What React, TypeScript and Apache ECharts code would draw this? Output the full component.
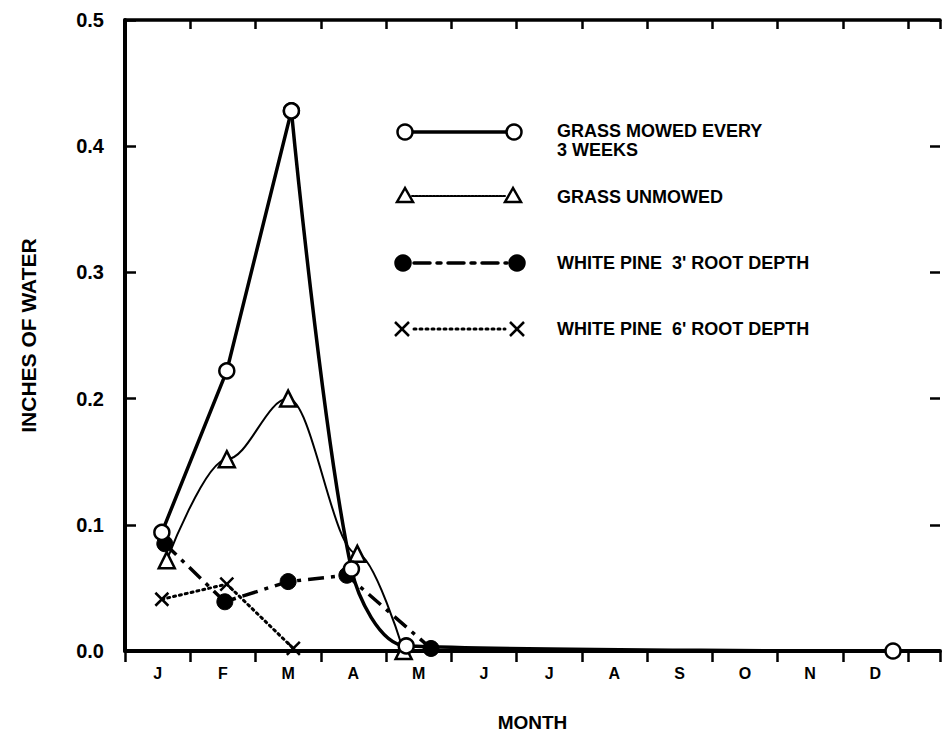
import React, { useEffect, useRef } from "react";
import * as echarts from "echarts";

const MONTHS = ["J", "F", "M", "A", "M", "J", "J", "A", "S", "O", "N", "D"];
const Y_TICKS = [0, 0.1, 0.2, 0.3, 0.4, 0.5];

const mowedX = [0.565, 1.56, 2.55, 3.47, 4.31, 11.77];
const mowedY = [0.094, 0.222, 0.428, 0.065, 0.004, 0.0];
const MOWED_PEAK = 2; // index of the peak: rise drawn straight, fall drawn curved
const unmowedX = [0.64, 1.56, 2.5, 3.56, 4.27];
const unmowedY = [0.072, 0.152, 0.2, 0.077, 0.0];
const pine3X = [0.61, 1.53, 2.5, 3.4, 4.69];
const pine3Y = [0.085, 0.039, 0.055, 0.06, 0.002];
const pine6X = [0.565, 1.56, 2.58];
const pine6Y = [0.041, 0.053, 0.002];

const LEGEND = [
  "GRASS MOWED EVERY",
  "3 WEEKS",
  "GRASS UNMOWED",
  "WHITE PINE  3' ROOT DEPTH",
  "WHITE PINE  6' ROOT DEPTH",
];

const FONT = "'Liberation Sans', Arial, sans-serif";
const X_MAX = 12.49;
const CROSS = "path://M0,0L10,10M10,0L0,10";

const pairs = (xs: number[], ys: number[]) => xs.map((x, i) => [x, ys[i]]);

export default function App() {
  const ref = useRef<HTMLDivElement>(null);
  useEffect(() => {
    if (!ref.current) return;
    const chart = echarts.init(ref.current, null, { renderer: "svg" });
    const black = "#000";
    const txt = (text: string, x: number, y: number) => ({
      type: "text",
      x,
      y,
      style: {
        text,
        fill: black,
        font: `bold 18px ${FONT}`,
        verticalAlign: "middle",
        align: "left",
      },
    });
    const circ = (cx: number, cy: number, filled: boolean) => ({
      type: "circle",
      shape: { cx, cy, r: 7.5 },
      style: { fill: filled ? black : "#fff", stroke: black, lineWidth: 2.5 },
      z: 10,
    });
    const tri = (x: number, y: number) => ({
      type: "polygon",
      shape: { points: [[x, y - 8], [x - 8, y + 6], [x + 8, y + 6]] },
      style: { fill: "#fff", stroke: black, lineWidth: 2.5 },
      z: 10,
    });
    const cross = (x: number, y: number) => ({
      type: "group",
      z: 10,
      children: [
        { type: "line", shape: { x1: x - 7, y1: y - 7, x2: x + 7, y2: y + 7 }, style: { stroke: black, lineWidth: 2.5 } },
        { type: "line", shape: { x1: x + 7, y1: y - 7, x2: x - 7, y2: y + 7 }, style: { stroke: black, lineWidth: 2.5 } },
      ],
    });
    const seg = (y: number, x1: number, x2: number, width: number, dash?: number[]) => ({
      type: "line",
      shape: { x1, y1: y, x2, y2: y },
      style: { stroke: black, lineWidth: width, lineDash: dash, lineCap: dash ? "round" : "butt" },
    });

    const xAxisBase = { type: "value", min: 0, max: X_MAX, splitLine: { show: false } };
    const mowedData = pairs(mowedX, mowedY);
    const mowedStyle = {
      type: "line",
      symbol: "circle",
      symbolSize: 15,
      showAllSymbol: true,
      lineStyle: { color: black, width: 3.5 },
      itemStyle: { color: "#fff", borderColor: black, borderWidth: 2.5 },
      z: 5,
    };

    chart.setOption({
      animation: false,
      backgroundColor: "#fff",
      grid: { left: 125, right: 0, top: 20, bottom: 86 },
      xAxis: [
        {
          ...xAxisBase,
          position: "bottom",
          interval: 0.5,
          axisLine: { show: true, onZero: false, lineStyle: { color: black, width: 4 } },
          axisTick: { show: false },
          axisLabel: {
            color: black,
            fontFamily: FONT,
            fontWeight: "bold",
            fontSize: 16,
            margin: 14,
            formatter: (v: number) => {
              const k = Math.round(v - 0.5);
              if (Math.abs(v - 0.5 - k) < 1e-6 && k >= 0 && k < MONTHS.length) return MONTHS[k];
              return "";
            },
          },
          name: "MONTH",
          nameLocation: "middle",
          nameGap: 62,
          nameTextStyle: { color: black, fontFamily: FONT, fontWeight: "bold", fontSize: 19 },
        },
        {
          ...xAxisBase,
          position: "bottom",
          interval: 1,
          axisLine: { show: false, onZero: false },
          axisTick: { show: true, inside: false, length: 11, lineStyle: { color: black, width: 2.5 } },
          axisLabel: { show: false },
        },
        {
          ...xAxisBase,
          position: "top",
          interval: 1,
          axisLine: { show: true, onZero: false, lineStyle: { color: black, width: 3.5 } },
          axisTick: { show: true, inside: true, length: 9, lineStyle: { color: black, width: 2.5 } },
          axisLabel: { show: false },
        },
      ],
      yAxis: [
        {
          type: "value",
          position: "left",
          min: Y_TICKS[0],
          max: Y_TICKS[Y_TICKS.length - 1],
          interval: 0.1,
          splitLine: { show: false },
          axisLine: { show: true, onZero: false, lineStyle: { color: black, width: 4 } },
          axisTick: { show: true, inside: true, length: 11, lineStyle: { color: black, width: 2.5 } },
          axisLabel: {
            color: black,
            fontFamily: FONT,
            fontWeight: "bold",
            fontSize: 20,
            margin: 21,
            formatter: (v: number) => v.toFixed(1),
          },
          name: "INCHES OF WATER",
          nameLocation: "middle",
          nameRotate: 90,
          nameGap: 86,
          nameTextStyle: { color: black, fontFamily: FONT, fontWeight: "bold", fontSize: 21 },
        },
        {
          type: "value",
          position: "right",
          min: Y_TICKS[0],
          max: Y_TICKS[Y_TICKS.length - 1],
          interval: 0.1,
          splitLine: { show: false },
          axisLine: { show: false, onZero: false },
          axisTick: { show: true, inside: true, length: 10, lineStyle: { color: black, width: 2.5 } },
          axisLabel: { show: false },
        },
      ],
      series: [
        {
          name: "WHITE PINE 6' ROOT DEPTH",
          type: "line",
          data: pairs(pine6X, pine6Y),
          symbol: CROSS,
          symbolSize: 13,
          showAllSymbol: true,
          lineStyle: { color: black, width: 3, type: [2, 4], cap: "round" },
          itemStyle: { color: black, borderColor: black, borderWidth: 2.5 },
          z: 2,
        },
        {
          name: "WHITE PINE 3' ROOT DEPTH",
          type: "line",
          data: pairs(pine3X, pine3Y),
          symbol: "circle",
          symbolSize: 16,
          showAllSymbol: true,
          lineStyle: { color: black, width: 3.5, type: [16, 7, 4, 7] },
          itemStyle: { color: black, borderColor: black, borderWidth: 1 },
          z: 3,
        },
        {
          name: "GRASS UNMOWED",
          type: "line",
          data: pairs(unmowedX, unmowedY),
          smooth: 0.35,
          smoothMonotone: "x",
          symbol: "triangle",
          symbolSize: 16,
          showAllSymbol: true,
          lineStyle: { color: black, width: 2 },
          itemStyle: { color: "#fff", borderColor: black, borderWidth: 2.5 },
          z: 4,
        },
        {
          ...mowedStyle,
          name: "GRASS MOWED EVERY 3 WEEKS",
          data: mowedData.slice(0, MOWED_PEAK + 1),
        },
        {
          ...mowedStyle,
          name: "GRASS MOWED EVERY 3 WEEKS ",
          data: mowedData.slice(MOWED_PEAK),
          smooth: 0.3,
        },
      ],
      graphic: [
        seg(132, 412, 508, 3.5),
        circ(405, 132, false),
        circ(514, 132, false),
        txt(LEGEND[0], 557, 131),
        txt(LEGEND[1], 557, 150),
        seg(196, 412, 506, 2, [2, 1.5]),
        tri(405, 196),
        tri(513, 196),
        txt(LEGEND[2], 557, 197),
        seg(263, 414, 507, 3.5, [16, 7, 4, 7]),
        circ(403, 263, true),
        circ(517, 263, true),
        txt(LEGEND[3], 557, 263),
        seg(329, 414, 505, 3, [2, 4]),
        cross(402, 329),
        cross(517, 329),
        txt(LEGEND[4], 557, 329),
      ],
    });
    return () => chart.dispose();
  }, []);
  return (
    <div
      ref={ref}
      style={{ position: "absolute", left: 0, top: 0, width: 943, height: 737 }}
    />
  );
}
